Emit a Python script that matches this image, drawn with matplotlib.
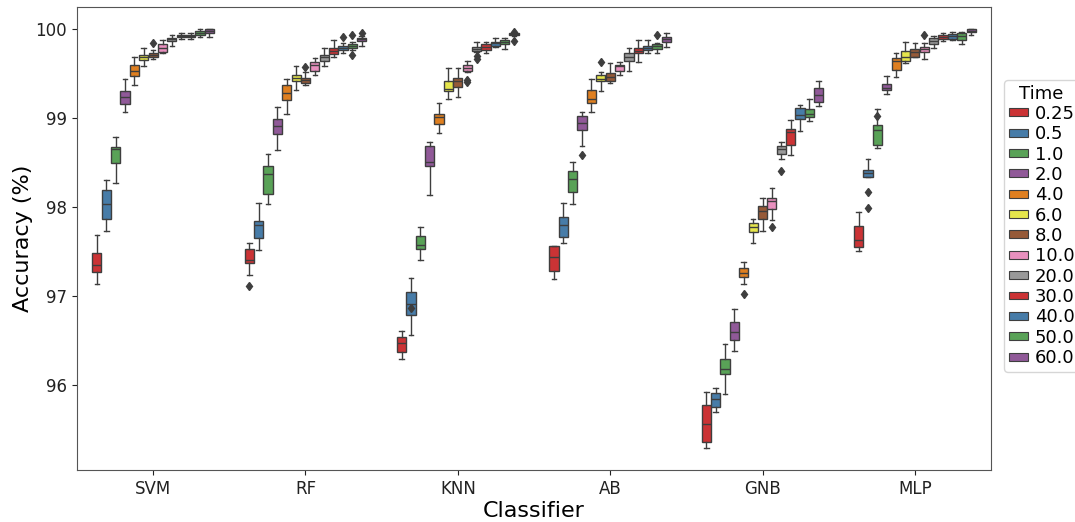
import numpy as np
import matplotlib.pyplot as plt
import seaborn as sns
from matplotlib.patches import Patch

classifiers = ['SVM', 'RF', 'KNN', 'AB', 'GNB', 'MLP']
times = ['0.25', '0.5', '1.0', '2.0', '4.0', '6.0', '8.0',
         '10.0', '20.0', '30.0', '40.0', '50.0', '60.0']

# one row per time: whisker low, Q1, median, Q3, whisker high
svm = [[97.14, 97.27, 97.35, 97.48, 97.68],
       [97.73, 97.87, 98.03, 98.19, 98.30],
       [98.27, 98.49, 98.65, 98.67, 98.79],
       [99.07, 99.16, 99.24, 99.30, 99.44],
       [99.37, 99.47, 99.53, 99.60, 99.69],
       [99.58, 99.65, 99.68, 99.71, 99.79],
       [99.66, 99.69, 99.71, 99.73, 99.76],
       [99.73, 99.74, 99.79, 99.83, 99.88],
       [99.81, 99.86, 99.89, 99.90, 99.93],
       [99.89, 99.91, 99.92, 99.93, 99.955],
       [99.89, 99.91, 99.92, 99.93, 99.955],
       [99.91, 99.93, 99.96, 99.98, 100.0],
       [99.91, 99.96, 99.98, 99.995, 100.0]]
rf = [[97.24, 97.37, 97.40, 97.53, 97.60],
      [97.52, 97.65, 97.80, 97.84, 98.05],
      [98.03, 98.15, 98.37, 98.46, 98.60],
      [98.64, 98.82, 98.91, 98.99, 99.12],
      [99.05, 99.20, 99.28, 99.37, 99.44],
      [99.32, 99.42, 99.45, 99.48, 99.58],
      [99.37, 99.39, 99.43, 99.45, 99.52],
      [99.48, 99.53, 99.59, 99.63, 99.67],
      [99.58, 99.64, 99.69, 99.71, 99.79],
      [99.69, 99.72, 99.75, 99.79, 99.88],
      [99.73, 99.76, 99.79, 99.81, 99.84],
      [99.76, 99.79, 99.81, 99.83, 99.85],
      [99.81, 99.86, 99.89, 99.90, 99.92]]
knn = [[96.29, 96.37, 96.47, 96.54, 96.61],
       [96.56, 96.79, 96.91, 97.04, 97.20],
       [97.41, 97.53, 97.57, 97.67, 97.78],
       [98.14, 98.46, 98.50, 98.69, 98.73],
       [98.83, 98.93, 99.01, 99.05, 99.17],
       [99.21, 99.30, 99.33, 99.42, 99.56],
       [99.24, 99.35, 99.41, 99.45, 99.56],
       [99.52, 99.53, 99.56, 99.59, 99.64],
       [99.74, 99.75, 99.78, 99.80, 99.85],
       [99.73, 99.76, 99.80, 99.83, 99.85],
       [99.80, 99.81, 99.84, 99.85, 99.90],
       [99.78, 99.83, 99.85, 99.88, 99.90],
       [99.92, 99.93, 99.94, 99.95, 99.955]]
ab = [[97.19, 97.28, 97.44, 97.56, 97.56],
      [97.60, 97.66, 97.80, 97.89, 98.05],
      [98.03, 98.17, 98.31, 98.41, 98.51],
      [98.68, 98.87, 98.94, 99.02, 99.07],
      [99.07, 99.17, 99.21, 99.31, 99.44],
      [99.30, 99.41, 99.44, 99.48, 99.52],
      [99.39, 99.42, 99.46, 99.51, 99.62],
      [99.48, 99.53, 99.58, 99.60, 99.63],
      [99.53, 99.64, 99.68, 99.73, 99.79],
      [99.63, 99.73, 99.75, 99.79, 99.88],
      [99.73, 99.76, 99.79, 99.81, 99.88],
      [99.73, 99.78, 99.81, 99.83, 99.84],
      [99.80, 99.85, 99.89, 99.91, 99.95]]
gnb = [[95.29, 95.36, 95.56, 95.77, 95.92],
       [95.70, 95.75, 95.84, 95.91, 95.97],
       [95.90, 96.12, 96.18, 96.29, 96.46],
       [96.38, 96.51, 96.60, 96.71, 96.85],
       [97.14, 97.21, 97.26, 97.31, 97.38],
       [97.60, 97.72, 97.78, 97.82, 97.87],
       [97.73, 97.87, 97.96, 98.01, 98.10],
       [97.85, 97.98, 98.07, 98.10, 98.21],
       [98.54, 98.59, 98.65, 98.69, 98.73],
       [98.58, 98.70, 98.84, 98.88, 98.98],
       [98.85, 98.99, 99.03, 99.11, 99.15],
       [98.97, 99.01, 99.05, 99.10, 99.21],
       [99.13, 99.18, 99.26, 99.34, 99.42]]
mlp = [[97.51, 97.55, 97.63, 97.79, 97.94],
       [98.34, 98.34, 98.38, 98.42, 98.54],
       [98.66, 98.70, 98.86, 98.92, 99.10],
       [99.27, 99.31, 99.34, 99.38, 99.47],
       [99.46, 99.54, 99.64, 99.67, 99.73],
       [99.62, 99.64, 99.69, 99.75, 99.85],
       [99.68, 99.69, 99.74, 99.77, 99.84],
       [99.66, 99.74, 99.78, 99.80, 99.84],
       [99.79, 99.83, 99.87, 99.90, 99.92],
       [99.87, 99.89, 99.91, 99.93, 99.96],
       [99.88, 99.89, 99.92, 99.94, 99.97],
       [99.83, 99.88, 99.92, 99.95, 99.97],
       [99.93, 99.97, 99.98, 99.995, 100.0]]

# outliers: time index -> values
svm_out = {6: [99.84]}
rf_out = {0: [97.11], 6: [99.57], 10: [99.91], 11: [99.93, 99.71], 12: [99.96]}
knn_out = {1: [96.87], 7: [99.43, 99.40], 8: [99.70, 99.66], 12: [99.97, 99.87]}
ab_out = {3: [98.58], 5: [99.63], 11: [99.93]}
gnb_out = {4: [97.02], 7: [97.78], 8: [98.40]}
mlp_out = {1: [98.17, 97.99], 2: [99.02], 7: [99.93]}

all_stats = [svm, rf, knn, ab, gnb, mlp]
all_out = [svm_out, rf_out, knn_out, ab_out, gnb_out, mlp_out]

pal = sns.color_palette('Set1', 9, desat=0.75)
colors = [pal[i % 9] for i in range(len(times))]
gray = '#3e3e3e'

fig = plt.figure(figsize=(10.75, 5.22), dpi=100)
ax = fig.add_axes([0.0716, 0.0996, 0.8503, 0.887])

n = len(times)
each = 0.8 / n
offsets = np.linspace(0, 0.8 - each, n) - (0.8 - each) / 2

for ci, (rows, outs) in enumerate(zip(all_stats, all_out)):
    for ti, r in enumerate(rows):
        st = {'whislo': r[0], 'q1': r[1], 'med': r[2], 'q3': r[3],
              'whishi': r[4], 'fliers': outs.get(ti, [])}
        ax.bxp([st], positions=[ci + offsets[ti]], widths=each * 0.98,
               patch_artist=True, manage_ticks=False,
               boxprops=dict(facecolor=colors[ti], edgecolor=gray, linewidth=1.0),
               medianprops=dict(color=gray, linewidth=1.0),
               whiskerprops=dict(color=gray, linewidth=1.0),
               capprops=dict(color=gray, linewidth=1.0),
               flierprops=dict(marker='d', markersize=4.5, markerfacecolor=gray,
                               markeredgecolor=gray))

ax.set_xlim(-0.5, 5.5)
ax.set_ylim(95.045, 100.247)
ax.set_xticks(range(len(classifiers)))
ax.set_xticklabels(classifiers)
ax.set_yticks([96, 97, 98, 99, 100])
ax.tick_params(labelsize=12, colors='#222222')
for s in ax.spines.values():
    s.set_color('#555555')
ax.set_xlabel('Classifier', fontsize=16, labelpad=2)
ax.set_ylabel('Accuracy (%)', fontsize=16, labelpad=2)

handles = [Patch(facecolor=colors[i], edgecolor=gray, linewidth=0.8, label=t)
           for i, t in enumerate(times)]
leg = fig.legend(handles=handles, title='Time', loc='upper left',
                 bbox_to_anchor=(1004 / 1075, 1 - 80 / 522), fontsize=13,
                 title_fontsize=13, labelspacing=0.13, handlelength=1.1,
                 handleheight=0.3, handletextpad=0.35, borderpad=0.25,
                 borderaxespad=0)

fig.savefig('out.png', dpi=100)
